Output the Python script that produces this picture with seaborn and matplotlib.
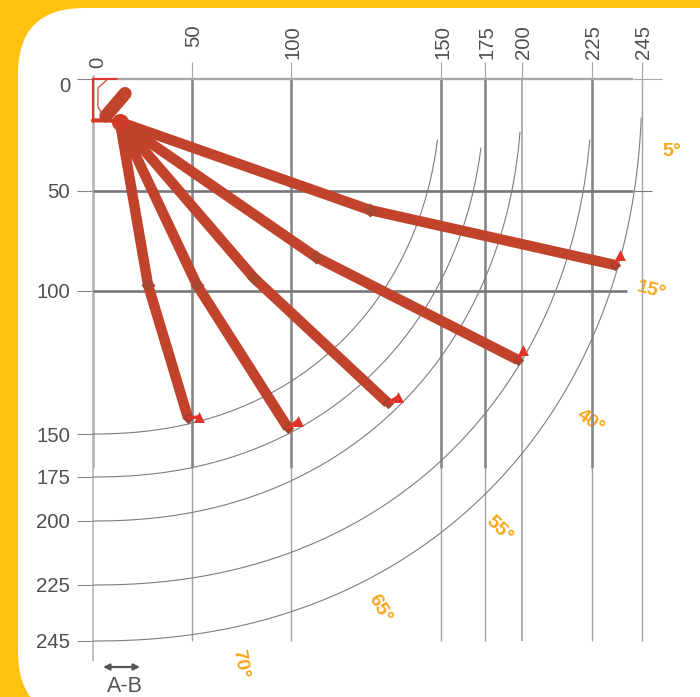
import numpy as np
import pandas as pd
import matplotlib
matplotlib.use("Agg")
import matplotlib.pyplot as plt
from matplotlib.patches import FancyBboxPatch
from matplotlib.transforms import ScaledTranslation
import seaborn as sns

# ruler values and where they sit along each axis (the ruler is not linear)
range_ticks = [0, 50, 100, 150, 175, 200, 225, 245]
x_ruler = [0, 99, 198, 348, 392, 429, 499, 549]
y_ruler = [0, 112, 212, 355, 398, 442, 506, 562]

# trajectories: launch, midpoint, landing
angles = ["15", "40", "55", "65", "70"]
start_x = 13.6
start_y = 19.2
mid_x = [126.3, 108.3, 81.3, 52.5, 27.8]
mid_y = [59.5, 83.0, 93.5, 97.0, 97.0]
end_x = [234.2, 197.3, 132.3, 98.5, 48.0]
end_y = [87.0, 124.1, 139.2, 147.9, 144.4]
flag_x = [236.2, 200.4, 135.7, 102.3, 53.7]
flag_y = [82.0, 120.6, 137.0, 145.3, 144.0]

# 5 degree shot near the origin
short_x = [6.5, 16.2]
short_y = [16.5, 6.5]
red_a_x = [0, 0]
red_a_y = [0, 19]
red_h_x = [0, 12]
red_h_y = [0, 0]
red_b_x = [7, 2.5, 2.5, 5]
red_b_y = [0.4, 4, 12.5, 16]
red_c_x = [0, 8, 13.6]
red_c_y = [18.5, 18.5, 19.2]

arc_ranges = [150, 175, 200, 225, 245]
arc_top_y = [27.2, 30.8, 23.7, 27.2, 17.4]
arc_power = 2.17
angle_labels = ["5°", "15°", "40°", "55°", "65°", "70°"]
label_px = [(672, 151), (651, 290), (590, 422), (499, 529), (380, 609), (240, 664)]
label_rot = [0, -15, -35, -45, -60, -80]

sns.set_theme(style="white")
plt.rcParams["font.family"] = ["Liberation Sans", "DejaVu Sans"]

W, H = 700, 697
fig = plt.figure(figsize=(7, 6.97), dpi=100, facecolor="#FFC20E")

# background card, in pixels
bg = fig.add_axes([0, 0, 1, 1], zorder=0)
bg.set_xlim(0, W)
bg.set_ylim(H, 0)
bg.axis("off")
bg.add_patch(FancyBboxPatch((84, 74), 800, 578, boxstyle="round,pad=66",
                            fc="white", ec="none"))

ax = fig.add_axes([93 / W, 1 - 641 / H, 549 / W, 562 / H], zorder=1)
ax.patch.set_alpha(0)


def make_scale(ruler):
    v = [-100] + range_ticks + [345]
    p = [-100 * ruler[1] / 50] + ruler + [ruler[-1] + 100]
    return (lambda a: np.interp(a, v, p)), (lambda a: np.interp(a, p, v))


fx, ix = make_scale(x_ruler)
fy, iy = make_scale(y_ruler)
ax.set_xscale("function", functions=(fx, ix))
ax.set_yscale("function", functions=(fy, iy))
ax.set_xlim(0, 245)
ax.set_ylim(245, 0)

# guide lines
thin = "#a2a2a6"
thick = "#87878b"
ax.vlines(0, -2, 170, color="#b4b4b8", lw=1.9, clip_on=False, zorder=1)
ax.vlines(0, 170, 265, color="#bcbcc0", lw=1.3, clip_on=False, zorder=1)
for v in [50, 100, 150, 175, 225]:
    ax.vlines(v, 0, 170, color=thick, lw=1.9, clip_on=False, zorder=1)
    ax.vlines(v, 170, 245, color=thin, lw=1.0, clip_on=False, zorder=1)
ax.vlines(200, 0, 245, color=thin, lw=1.2, clip_on=False, zorder=1)
ax.vlines(245, 0, 245, color=thin, lw=1.0, clip_on=False, zorder=1)
ax.hlines(0, 0, 241.4, color="#a8a8ac", lw=1.7, clip_on=False, zorder=1)
ax.hlines(0, 241.4, 265, color="#a8a8ac", lw=0.8, clip_on=False, zorder=1)
ax.hlines(50, 0, 241.4, color="#77777b", lw=1.9, clip_on=False, zorder=1)
ax.hlines(50, 241.4, 255, color="#77777b", lw=0.8, clip_on=False, zorder=1)
ax.hlines(100, 0, 239, color="#77777b", lw=1.9, clip_on=False, zorder=1)

# range arcs, a little squarer than an ellipse
for r, top in zip(arc_ranges, arc_top_y):
    rx = fx(np.array([r]))[0]
    ry = fy(np.array([r]))[0]
    t0 = np.arcsin((fy(np.array([top]))[0] / ry) ** (arc_power / 2))
    t = np.linspace(t0, np.pi / 2, 150)
    ax.plot(ix(rx * np.cos(t) ** (2 / arc_power)), iy(ry * np.sin(t) ** (2 / arc_power)),
            color="#7d7d7d", lw=0.8, clip_on=False, zorder=2)

# trajectories
rows = []
for i, a in enumerate(angles):
    rows.append((a, start_x, start_y))
    rows.append((a, mid_x[i], mid_y[i]))
    rows.append((a, end_x[i], end_y[i]))
df = pd.DataFrame(rows, columns=["angle", "x", "y"])

brick = "#C1432B"
red = "#E2332A"
sns.lineplot(data=df, x="x", y="y", units="angle", estimator=None, sort=False,
             color=brick, lw=7.5, ax=ax, legend=False, zorder=4,
             solid_capstyle="butt")
sns.lineplot(x=short_x, y=short_y, estimator=None, sort=False, color=brick,
             lw=9.5, ax=ax, zorder=4, solid_capstyle="round")
for lx, ly, w, c in [(red_a_x, red_a_y, 1.5, red), (red_h_x, red_h_y, 1.4, red),
                     (red_b_x, red_b_y, 1.0, "#E0553F"), (red_c_x, red_c_y, 3.0, "#D83A2A")]:
    sns.lineplot(x=lx, y=ly, estimator=None, sort=False, color=c, lw=w, ax=ax,
                 zorder=3, clip_on=False)
sns.scatterplot(x=[start_x], y=[start_y], color="#CF3D2A", s=150, linewidth=0,
                ax=ax, zorder=5)
sns.scatterplot(x=mid_x, y=mid_y, color="#A9472F", marker="D", s=52, linewidth=0,
                ax=ax, zorder=5)
sns.scatterplot(x=end_x, y=end_y, color="#A0432E", marker="D", s=34, linewidth=0,
                ax=ax, zorder=5)
for i in range(len(angles)):
    sns.lineplot(x=[end_x[i], flag_x[i]], y=[end_y[i], flag_y[i]], estimator=None,
                 sort=False, color=red, lw=2.4, ax=ax, zorder=5)
sns.scatterplot(x=flag_x, y=flag_y, color=red, marker="^", s=62, linewidth=0,
                ax=ax, zorder=6)

# ticks
text_grey = "#4f4f52"
ax.set_xlabel("")
ax.set_ylabel("")
sns.despine(ax=ax, left=True, bottom=True, top=True, right=True)
ax.xaxis.tick_top()
ax.set_xticks(range_ticks)
ax.set_xticklabels(range_ticks, rotation=90, fontsize=14.7, color=text_grey)
ax.set_yticks(range_ticks)
ax.set_yticklabels(range_ticks, fontsize=14.7, color=text_grey)
ax.minorticks_off()
ax.tick_params(axis="x", length=12, width=0.8, color="#a2a2a6", top=True, bottom=False)
ax.tick_params(axis="y", length=11.5, width=0.8, color="#888888", left=True, pad=5)
x_pads = [-4, 11, 2.4, 2.4, 2.4, 2.4, 2.4, 2.4]
for v, tick, pad in zip(range_ticks, ax.xaxis.get_major_ticks(), x_pads):
    tick.set_pad(pad)
    dx = 5 if v == 0 else 2
    tick.label2.set_transform(tick.label2.get_transform()
                              + ScaledTranslation(dx / 100, 0, fig.dpi_scale_trans))
    if v == 0:
        tick.tick2line.set_visible(False)
zero_y = ax.yaxis.get_major_ticks()[0].label1
zero_y.set_transform(zero_y.get_transform() + ScaledTranslation(0, -5 / 100, fig.dpi_scale_trans))

# angle labels and the A-B marker sit on the card
for s, (px, py), rot in zip(angle_labels, label_px, label_rot):
    bg.text(px, py, s, color="#F9A61A", fontsize=14, fontweight="bold", rotation=rot,
            ha="center", va="center", rotation_mode="anchor")
bg.annotate("", xy=(103, 667), xytext=(140, 667),
            arrowprops=dict(arrowstyle="<|-|>", color="#555555", lw=1.6,
                            shrinkA=0, shrinkB=0, mutation_scale=9))
bg.text(125, 692, "A-B", color="#555555", fontsize=15.5, ha="center", va="baseline")

fig.savefig("out.png", dpi=100, facecolor=fig.get_facecolor())
